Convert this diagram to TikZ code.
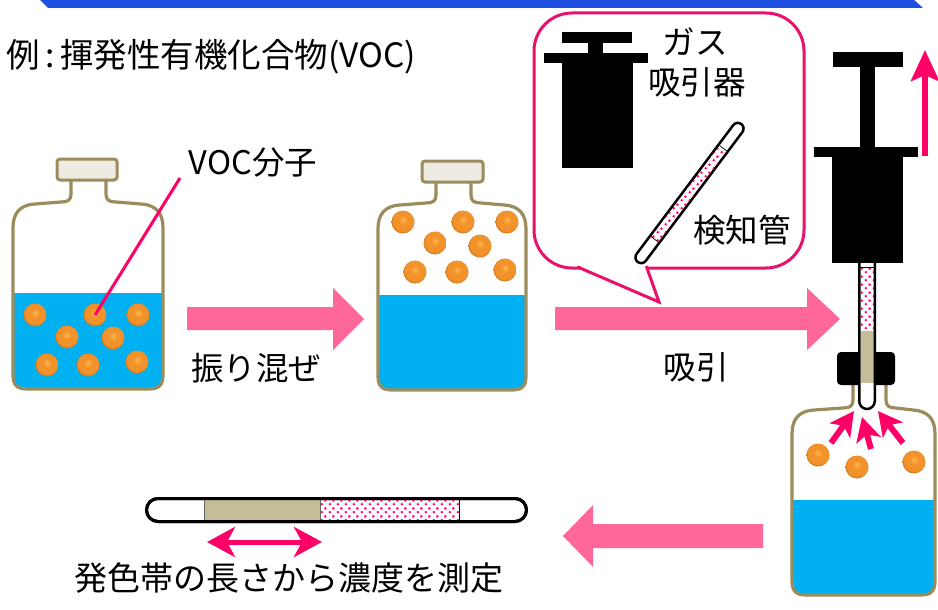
\documentclass[tikz,border=0pt]{standalone}
\usepackage{fontspec}
\setmainfont{Noto Sans CJK JP}
\usetikzlibrary{arrows.meta,patterns.meta}

\definecolor{barblue}{HTML}{1F4FE0}
\definecolor{arrowpink}{HTML}{FF6699}
\definecolor{hotpink}{HTML}{FF0066}
\definecolor{bubblepink}{HTML}{E8126A}
\definecolor{olive}{HTML}{9A8C5C}
\definecolor{capgray}{HTML}{EEECE2}
\definecolor{water}{HTML}{00B0F0}
\definecolor{khaki}{HTML}{C4BD97}
\definecolor{ballhi}{HTML}{FFB84D}
\definecolor{ballmid}{HTML}{F2922A}
\definecolor{balledge}{HTML}{C06A18}

% orange molecule: lighter toward the top, darker rim
\pgfdeclareradialshading{vocball}{\pgfpoint{0bp}{5bp}}{%
  color(0bp)=(ballhi); color(10bp)=(ballmid); color(22bp)=(ballmid);
  color(28bp)=(balledge); color(50bp)=(balledge)}

% staggered pink dots of the reagent layer
\tikzdeclarepattern{
  name=pinkdots, type=colored,
  bottom left={(0pt,0pt)}, top right={(8pt,8pt)}, tile size={(8pt,8pt)},
  code={\fill[hotpink] (2pt,2pt) circle (1.5pt);
        \fill[hotpink] (6pt,6pt) circle (1.5pt);}
}

% outline of a bottle: body left/right, neck left/right, neck top, shoulder, bottom
\newcommand\bottleoutline[7]{%
  (#3,#5) -- (#3,#6-8)
  .. controls (#3,#6-2) and (#3-3,#6) .. (#3-10,#6)
  -- (#1+22,#6+2)
  .. controls (#1+6,#6+3) and (#1,#6+12) .. (#1,#6+26)
  -- (#1,#7-14)
  .. controls (#1,#7-4) and (#1+4,#7) .. (#1+14,#7)
  -- (#2-14,#7)
  .. controls (#2-4,#7) and (#2,#7-4) .. (#2,#7-14)
  -- (#2,#6+26)
  .. controls (#2,#6+12) and (#2-6,#6+3) .. (#2-22,#6+2)
  -- (#4+10,#6)
  .. controls (#4+3,#6) and (#4,#6-2) .. (#4,#6-8)
  -- (#4,#5)}

% bottle with liquid up to level #8
\newcommand\vocbottle[8]{%
  \fill[white] \bottleoutline{#1}{#2}{#3}{#4}{#5}{#6}{#7} -- cycle;
  \begin{scope}
    \clip \bottleoutline{#1}{#2}{#3}{#4}{#5}{#6}{#7} -- cycle;
    \fill[water] (#1-4,#8) rectangle (#2+4,#7+4);
  \end{scope}
  \draw[bottleline] \bottleoutline{#1}{#2}{#3}{#4}{#5}{#6}{#7};
}

\tikzset{
  lbl/.style={font=\fontsize{32.5}{38}\selectfont, inner sep=0pt, text=black},
  bigl/.style={font=\fontsize{33.5}{40}\selectfont, inner sep=0pt, text=black},
  bottleline/.style={draw=olive, line width=3.2pt, line join=round},
  capbox/.style={fill=capgray, draw=olive, line width=3pt, rounded corners=3pt},
  blockarrow/.style={fill=arrowpink},
  molecule/.style={shading=vocball},
  thinarrow/.style={draw=hotpink, line width=6pt,
    -{Stealth[length=24pt,width=25pt,inset=6pt]}},
  tubeline/.style={draw=black, line width=2.5pt},
}

\begin{document}
\begin{tikzpicture}[x=1pt,y=-1pt]
\useasboundingbox (0,0) rectangle (938,610);
\fill[white] (0,0) rectangle (938,610);

% header band
\fill[barblue] (39,-1) -- (48,8) -- (923,8) -- (913,-1) -- cycle;

\node[bigl, anchor=west] (title) at (6,57) {例\,:\,揮発性有機化合物(VOC)};

% ---- bottle 1: molecules dissolved in the liquid
\vocbottle{13}{163}{71}{106}{180}{202}{389}{293}
\draw[capbox] (57,159) rectangle (117,180);
\foreach \p in {(35,315),(95,315),(138,315),(67,337),(113,338),(47,365),(88,365),(137,362)}
  \shade[molecule] \p circle (11.5pt);
\coordinate (leadend) at (95,315);
\node[lbl] (voclabel) at (253,163) {VOC分子};
\draw[hotpink, line width=3pt] (leadend) -- (180,178);

% shake arrow
\fill[blockarrow] (187,307) -- (333,307) -- (333,288) -- (364,319) -- (333,350) -- (333,330) -- (187,330) -- cycle;
\node[lbl] (shake) at (256,368) {振り混ぜ};

% ---- bottle 2: molecules in the head space
\vocbottle{378}{526}{436}{471}{182}{203}{390}{295}
\draw[capbox] (422,161) rectangle (483,182);
\foreach \p in {(403,222),(463,222),(507,222),(435,243),(480,246),(415,272),(457,272),(505,270)}
  \shade[molecule] \p circle (11.5pt);

% suction arrow
\fill[blockarrow] (555,307) -- (807,307) -- (807,288) -- (840,319) -- (807,350) -- (807,330) -- (555,330) -- cycle;
\node[lbl] (suction) at (696,367) {吸引};

% ---- callout with the pump and the detector tube
\draw[bubblepink, line width=3pt, fill=white, rounded corners=38pt] (534,13) rectangle (804,268);
\fill[white] (581,266) -- (581,268.4) -- (659,302) -- (647,268) -- (646,266) -- cycle;
\draw[bubblepink, line width=3pt, line join=miter] (577.2,266.8) -- (659,302) -- (646.3,266.1);

\fill[black] (562,32) rectangle (632,43);
\fill[black] (588,42) rectangle (603,54);
\fill[black] (544,53) rectangle (648,63);
\fill[black] (562,62) rectangle (633,168);
\node[lbl] (gas) at (695,42) {ガス};
\node[lbl] (pump) at (697,82) {吸引器};

\begin{scope}[shift={(689.5,193)}, rotate=53.1]
  \draw[tubeline, fill=white, rounded corners=5.75pt] (-86.25,-5.75) rectangle (86.25,5.75);
  \fill[pattern=pinkdots] (-58,-4.5) rectangle (56,4.5);
  \draw[line width=0.7pt] (-58,-4.5) -- (-58,4.5) (56,-4.5) -- (56,4.5);
\end{scope}
\node[lbl] (tube) at (742,230) {検知管};

% ---- bottle 3 with the pump attached
\vocbottle{792}{935}{853}{886}{385}{408}{595}{500}
\foreach \p in {(818,455),(857,467),(914,462)}
  \shade[molecule] \p circle (11.5pt);

\fill[black, rounded corners=4pt] (837,352) rectangle (895,385);
\fill[white] (860,262) rectangle (874.5,409);
\fill[pattern=pinkdots] (860.5,267) rectangle (874,331);
\fill[khaki] (860.5,331) rectangle (874,383);
\draw[line width=0.8pt] (860,267) -- (874.5,267);
\draw[tubeline, rounded corners=7.75pt] (859.25,262) -- (859.25,409) -- (874.75,409) -- (874.75,262);

\fill[black] (833,52) rectangle (903,67);
\fill[black] (860,66) rectangle (875,148);
\fill[black] (814,147) rectangle (918,157);
\fill[black] (832,156) rectangle (903,263);

% plunger pulled up
\coordinate (upfrom) at (925,156);
\coordinate (upto) at (925,50);
\draw[draw=hotpink, line width=6.5pt, -{Stealth[length=31pt,width=28pt,inset=6pt]}] (upfrom) -- (upto);

% vapour drawn into the tube
\coordinate (vtail1) at (831,443); \coordinate (vtip1) at (854,411);
\coordinate (vtail2) at (871,449); \coordinate (vtip2) at (862,417);
\coordinate (vtail3) at (903,443); \coordinate (vtip3) at (878,411);
\draw[thinarrow] (vtail1) -- (vtip1);
\draw[thinarrow] (vtail2) -- (vtip2);
\draw[thinarrow] (vtail3) -- (vtip3);

% return arrow
\fill[blockarrow] (763,524) -- (593,524) -- (593,505) -- (563,536) -- (593,567) -- (593,548) -- (763,548) -- cycle;

% ---- read-out tube
\draw[tubeline, line width=3pt, fill=white, rounded corners=11.5pt] (146.5,498.5) rectangle (526.5,521.5);
\fill[khaki] (204,500) rectangle (320,520);
\fill[pattern=pinkdots] (320,500) rectangle (459,520);
\draw[draw=black!60, line width=0.8pt] (204,500) -- (204,520) (320,500) -- (320,520);
\draw[draw=black, line width=0.8pt] (459,500) -- (459,520);
\draw[tubeline, line width=3pt, rounded corners=11.5pt] (146.5,498.5) rectangle (526.5,521.5);

\coordinate (lenL) at (207,542);
\coordinate (lenR) at (322,542);
\draw[draw=hotpink, line width=5pt,
  {Stealth[length=28pt,width=30pt,inset=8pt]}-{Stealth[length=28pt,width=30pt,inset=8pt]}] (lenL) -- (lenR);
\node[font=\fontsize{33}{40}\selectfont, inner sep=0pt] (readout) at (289,578) {発色帯の長さから濃度を測定};
\end{tikzpicture}
\end{document}
